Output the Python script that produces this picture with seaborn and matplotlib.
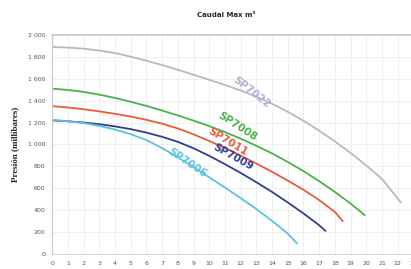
import pandas as pd
import matplotlib.pyplot as plt
import seaborn as sns

# caudal (x) y presion (mbar)
x_7022 = [0, 1, 2, 3, 4, 5, 6, 7, 8, 9, 10, 11, 12, 13, 14, 15, 16, 17, 18, 19, 20, 21, 22.2]
y_7022 = [1890, 1885, 1875, 1858, 1835, 1802, 1765, 1725, 1682, 1637, 1590, 1543, 1493,
          1436, 1372, 1298, 1216, 1126, 1028, 922, 808, 685, 470]

x_7008 = [0, 1, 2, 3, 4, 5, 6, 7, 8, 9, 10, 11, 12, 13, 14, 15, 16, 17, 18, 19, 19.9]
y_7008 = [1510, 1498, 1480, 1455, 1425, 1390, 1352, 1310, 1265, 1218, 1168, 1113, 1053,
          988, 918, 840, 756, 665, 566, 460, 355]

x_7011 = [0, 1, 2, 3, 4, 5, 6, 7, 8, 9, 10, 11, 12, 13, 14, 15, 16, 17, 18, 18.5]
y_7011 = [1350, 1338, 1322, 1302, 1280, 1255, 1225, 1190, 1146, 1092, 1032, 967, 898,
          826, 750, 670, 586, 492, 384, 300]

x_7009 = [0, 1, 2, 3, 4, 5, 6, 7, 8, 9, 10, 11, 12, 13, 14, 15, 16, 17, 17.4]
y_7009 = [1220, 1212, 1200, 1185, 1165, 1140, 1108, 1070, 1024, 965, 896, 820, 740,
          655, 566, 470, 370, 262, 210]

x_7006 = [0, 1, 2, 3, 4, 5, 6, 7, 8, 9, 10, 11, 12, 13, 14, 15, 15.6]
y_7006 = [1225, 1212, 1195, 1170, 1136, 1094, 1040, 967, 882, 792, 700, 606, 510,
          410, 302, 185, 95]

models = ['SP7022', 'SP7008', 'SP7011', 'SP7009', 'SP7006']
colors = ['#b9b9bd', '#4cb14c', '#ea5b3c', '#2e3f93', '#5cc3df']
label_colors = ['#b7a9d8', '#4cb14c', '#ea5b3c', '#2e3f93', '#5cc3df']
label_pos = [(12.7, 1480, -38), (11.8, 1160, -33), (11.2, 1020, -31),
             (11.5, 885, -29), (8.6, 830, -34)]

xs = [x_7022, x_7008, x_7011, x_7009, x_7006]
ys = [y_7022, y_7008, y_7011, y_7009, y_7006]
frames = []
for m, x, y in zip(models, xs, ys):
    frames.append(pd.DataFrame({'caudal': x, 'presion': y, 'modelo': m}))
df = pd.concat(frames, ignore_index=True)

sns.set_style('white')
fig = plt.figure(figsize=(4.11, 2.69), dpi=100)
ax = fig.add_axes([0.127, 0.056, 0.898, 0.814])

sns.lineplot(data=df, x='caudal', y='presion', hue='modelo', palette=colors,
             hue_order=models, linewidth=1.3, legend=False, ax=ax, sort=False)

for m, c, (lx, ly, rot) in zip(models, label_colors, label_pos):
    ax.text(lx, ly, m, color=c, fontsize=7.5, fontweight='bold', rotation=rot,
            ha='center', va='center', family='Liberation Sans Narrow')

ax.set_xlim(0, 23.5)
ax.set_ylim(0, 2000)
ax.set_xticks(range(0, 24))
ax.set_yticks(range(0, 2001, 200))
ax.set_yticklabels([f'{v:,}'.replace(',', ' ') for v in range(0, 2001, 200)])
ax.grid(True, color='#ececec', linewidth=0.6)
ax.tick_params(labelsize=4.5, colors='#555555', length=0, pad=5)
ax.spines['right'].set_visible(False)
ax.spines['top'].set_color('#c8c8c8')
ax.spines['top'].set_linewidth(1.2)
ax.spines['left'].set_color('#c8c8c8')
ax.spines['bottom'].set_color('#d8d8d8')
ax.set_xlabel('')
ax.set_ylabel('Presión (millibares)', fontsize=6.5, fontweight='bold',
              family='Liberation Serif', color='#222222', labelpad=6)

fig.text(0.55, 0.945, 'Caudal Max m³', fontsize=5, fontweight='bold',
         ha='center', va='center', family='Liberation Sans Narrow')

fig.savefig('out.png', dpi=100)
